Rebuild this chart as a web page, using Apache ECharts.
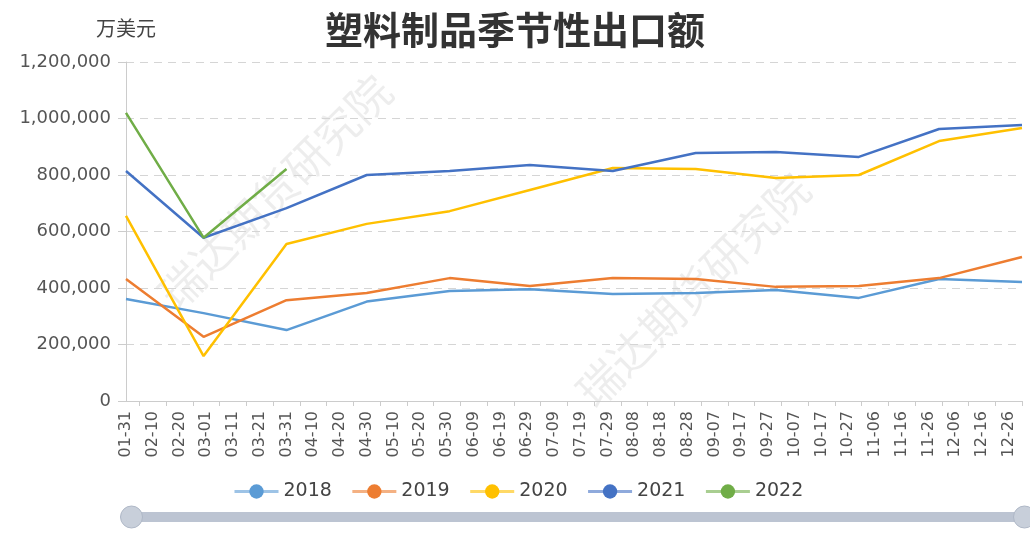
<!DOCTYPE html>
<html>
<head>
<meta charset="utf-8">
<script src="https://cdn.jsdelivr.net/npm/echarts@6/dist/echarts.min.js"></script>
<style>
  html, body { margin: 0; padding: 0; background: #fff; }
  #chart { width: 1030px; height: 533px; }
</style>
</head>
<body>
<div id="chart"></div>
<script>
// month-end dates (2020 calendar) where each year's value sits
const dates = ['01-31', '02-29', '03-31', '04-30', '05-31', '06-30', '07-31', '08-31', '09-30', '10-31', '11-30', '12-31'];
const years = ['2018', '2019', '2020', '2021', '2022'];
const colors = ['#5b9bd5', '#ed7d31', '#ffc000', '#4472c4', '#70ad47'];

// 万美元
const v2018 = [361000, 311000, 251000, 352000, 389000, 396000, 379000, 382000, 393000, 365000, 432000, 421000];
const v2019 = [432000, 227000, 357000, 382000, 435000, 407000, 435000, 432000, 404000, 407000, 435000, 510000];
const v2020 = [655000, 159000, 556000, 627000, 672000, 747000, 825000, 821000, 789000, 800000, 920000, 966000];
const v2021 = [814000, 578000, 683000, 800000, 814000, 835000, 814000, 878000, 881000, 864000, 963000, 977000];
const v2022 = [1020000, 578000, 821000];

// x axis is days counted from 01-31, labels every 10 days
const DAY = 86400000;
const base = Date.UTC(2020, 0, 31);
const dayOf = (s) => (Date.UTC(2020, +s.slice(0, 2) - 1, +s.slice(3)) - base) / DAY;
const xMax = dayOf(dates[dates.length - 1]);
const labelDays = [];
for (let d = 0; d <= xMax; d += 10) labelDays.push(d);
const tickDays = labelDays.map((d) => d + 5).filter((d) => d < xMax).concat([xMax]);

const fmtDay = (d) => {
  const t = new Date(base + d * DAY);
  const mm = String(t.getUTCMonth() + 1).padStart(2, '0');
  const dd = String(t.getUTCDate()).padStart(2, '0');
  return mm + '-' + dd;
};

const toPairs = (vals) => vals.map((v, i) => [dayOf(dates[i]), v]);
const allValues = [v2018, v2019, v2020, v2021, v2022];

const numFont = 'DejaVu Sans';
const cjkFont = 'Noto Sans CJK SC';

const chart = echarts.init(document.getElementById('chart'));

const option = {
  animation: false,
  textStyle: { fontFamily: cjkFont },
  title: {
    text: '塑料制品季节性出口额',
    left: 'center',
    top: 6,
    textStyle: { fontSize: 38, fontWeight: 'bold', color: '#333', fontFamily: cjkFont }
  },
  graphic: [
    {
      type: 'text', x: 275, y: 192, rotation: Math.PI / 4,
      style: { text: '瑞达期货研究院', fontSize: 44, fill: 'rgba(0,0,0,0.07)', align: 'center', verticalAlign: 'middle', fontFamily: cjkFont }
    },
    {
      type: 'text', x: 693, y: 290, rotation: Math.PI / 4,
      style: { text: '瑞达期货研究院', fontSize: 44, fill: 'rgba(0,0,0,0.07)', align: 'center', verticalAlign: 'middle', fontFamily: cjkFont }
    }
  ],
  legend: {
    left: 228,
    top: 477,
    itemWidth: 44,
    itemHeight: 18,
    itemGap: 19,
    textStyle: { fontSize: 19, color: '#444', fontFamily: numFont },
    lineStyle: { opacity: 0.6, width: 3 },
    data: years
  },
  grid: { left: 126, right: 8, top: 62, bottom: 132 },
  xAxis: {
    type: 'value',
    min: 0,
    max: xMax,
    axisLine: { lineStyle: { color: '#ccc' } },
    axisTick: { show: true, length: 5, customValues: tickDays, lineStyle: { color: '#ccc' } },
    axisLabel: {
      rotate: 90,
      margin: 10,
      fontSize: 16,
      color: '#555',
      fontFamily: numFont,
      customValues: labelDays,
      formatter: (v) => fmtDay(v)
    },
    splitLine: { show: false }
  },
  yAxis: {
    type: 'value',
    min: 0,
    max: 1200000,
    interval: 200000,
    name: '万美元',
    nameLocation: 'end',
    nameGap: 24,
    nameTextStyle: { fontSize: 20, color: '#444', align: 'center', fontFamily: cjkFont },
    axisLine: { show: true, lineStyle: { color: '#ccc' } },
    axisTick: { show: true, length: 8, lineStyle: { color: '#ccc' } },
    axisLabel: { fontSize: 18, color: '#555', margin: 15, fontFamily: numFont },
    splitLine: { lineStyle: { type: [8, 6], color: '#d5d5d5' } }
  },
  dataZoom: [{
    type: 'slider',
    xAxisIndex: 0,
    filterMode: 'none',
    start: 0,
    end: 100,
    left: 129,
    right: 6,
    bottom: 11,
    height: 10,
    brushSelect: false,
    showDetail: false,
    showDataShadow: false,
    moveHandleSize: 0,
    borderColor: 'transparent',
    backgroundColor: '#d8dde6',
    fillerColor: '#bcc4d2',
    handleIcon: 'circle',
    handleSize: 22,
    handleStyle: { color: '#c8cfda', borderColor: '#aeb7c6', borderWidth: 1 }
  }],
  series: years.map((y, i) => ({
    name: y,
    type: 'line',
    data: toPairs(allValues[i]),
    symbol: 'circle',
    showSymbol: false,
    lineStyle: { width: 2.5, color: colors[i] },
    itemStyle: { color: colors[i] }
  }))
};

chart.setOption(option);
</script>
</body>
</html>
